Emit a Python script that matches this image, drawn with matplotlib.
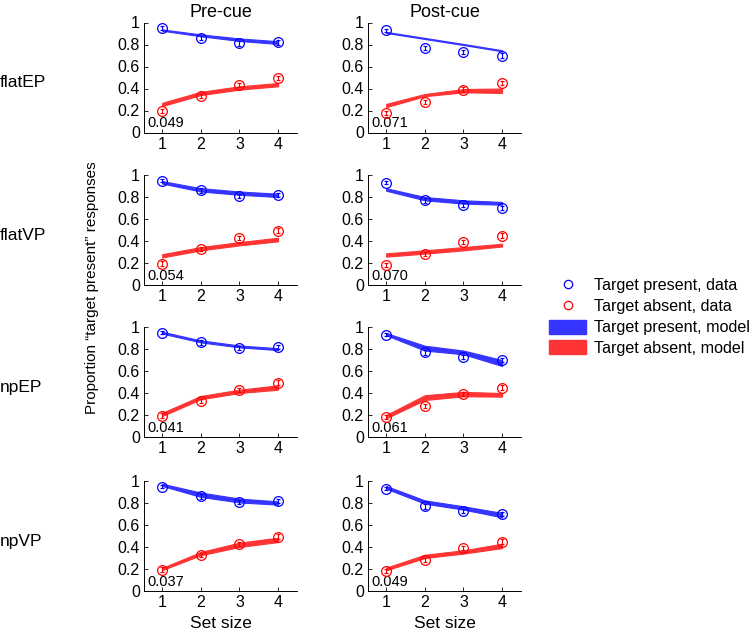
import numpy as np
import matplotlib
matplotlib.use("Agg")
from matplotlib import pyplot as plt
from matplotlib.lines import Line2D
from matplotlib.patches import Patch

plt.rcParams['font.family'] = ['Liberation Sans', 'DejaVu Sans']

set_sizes = [1, 2, 3, 4]
y_ticks = [0, 0.2, 0.4, 0.6, 0.8, 1]
y_tick_labels = ['0', '0.2', '0.4', '0.6', '0.8', '1']
conditions = ['Pre-cue', 'Post-cue']
models = ['flatEP', 'flatVP', 'npEP', 'npVP']

# observed proportions (same data in every row)
pre_present = [0.95, 0.86, 0.81, 0.82]
pre_absent = [0.195, 0.33, 0.43, 0.495]
post_present = [0.93, 0.77, 0.73, 0.70]
post_absent = [0.18, 0.28, 0.39, 0.45]
err_pre_present = [0.015, 0.02, 0.02, 0.02]
err_pre_absent = [0.02, 0.02, 0.02, 0.02]
err_post_present = [0.015, 0.02, 0.02, 0.02]
err_post_absent = [0.02, 0.02, 0.02, 0.02]

# model bands: [lower, upper]
flatEP_pre_present = [[0.925, 0.875, 0.832, 0.805], [0.937, 0.892, 0.855, 0.83]]
flatEP_pre_absent = [[0.24, 0.34, 0.39, 0.42], [0.27, 0.37, 0.42, 0.45]]
flatEP_post_present = [[0.905, 0.85, 0.795, 0.738], [0.915, 0.86, 0.805, 0.748]]
flatEP_post_absent = [[0.23, 0.33, 0.365, 0.36], [0.26, 0.35, 0.395, 0.40]]

flatVP_pre_present = [[0.922, 0.85, 0.82, 0.80], [0.945, 0.88, 0.85, 0.83]]
flatVP_pre_absent = [[0.25, 0.315, 0.36, 0.397], [0.28, 0.345, 0.39, 0.43]]
flatVP_post_present = [[0.857, 0.77, 0.74, 0.73], [0.88, 0.80, 0.77, 0.755]]
flatVP_post_absent = [[0.258, 0.285, 0.315, 0.35], [0.288, 0.315, 0.345, 0.375]]

npEP_pre_present = [[0.94, 0.86, 0.815, 0.79], [0.957, 0.878, 0.832, 0.807]]
npEP_pre_absent = [[0.19, 0.343, 0.40, 0.43], [0.22, 0.373, 0.43, 0.47]]
npEP_post_present = [[0.925, 0.786, 0.752, 0.645], [0.945, 0.83, 0.786, 0.70]]
npEP_post_absent = [[0.17, 0.336, 0.37, 0.367], [0.20, 0.38, 0.41, 0.40]]

npVP_pre_present = [[0.955, 0.855, 0.805, 0.785], [0.975, 0.895, 0.84, 0.815]]
npVP_pre_absent = [[0.19, 0.325, 0.40, 0.445], [0.21, 0.355, 0.44, 0.485]]
npVP_post_present = [[0.93, 0.794, 0.74, 0.67], [0.955, 0.824, 0.77, 0.71]]
npVP_post_absent = [[0.188, 0.30, 0.34, 0.39], [0.212, 0.33, 0.37, 0.43]]

fit_scores = [['0.049', '0.071'], ['0.054', '0.070'], ['0.041', '0.061'], ['0.037', '0.049']]

blue_fill = '#3535ff'
red_fill = '#ff3535'

bands = {
    'flatEP': [(flatEP_pre_present, flatEP_pre_absent), (flatEP_post_present, flatEP_post_absent)],
    'flatVP': [(flatVP_pre_present, flatVP_pre_absent), (flatVP_post_present, flatVP_post_absent)],
    'npEP': [(npEP_pre_present, npEP_pre_absent), (npEP_post_present, npEP_post_absent)],
    'npVP': [(npVP_pre_present, npVP_pre_absent), (npVP_post_present, npVP_post_absent)],
}
data = [(pre_present, err_pre_present, pre_absent, err_pre_absent),
        (post_present, err_post_present, post_absent, err_post_absent)]

fig = plt.figure(figsize=(7.55, 6.33), dpi=100)

col_left = [144 / 755, 368 / 755]
ax_w = 153 / 755
ax_h = 110 / 633
row_bottom = [1 - 132.5 / 633, 1 - 285 / 633, 1 - 437 / 633, 1 - 591 / 633]

for r, m in enumerate(models):
    for c in range(2):
        ax = fig.add_axes([col_left[c], row_bottom[r], ax_w, ax_h])
        tp_band, ta_band = bands[m][c]
        ax.fill_between(set_sizes, tp_band[0], tp_band[1], color=blue_fill,
                        lw=0.8, edgecolor=blue_fill, zorder=2)
        ax.fill_between(set_sizes, ta_band[0], ta_band[1], color=red_fill,
                        lw=0.8, edgecolor=red_fill, zorder=2)
        tp, tp_err, ta, ta_err = data[c]
        ax.errorbar(set_sizes, tp, yerr=tp_err, fmt='o', mfc='none', mec='blue',
                    ecolor='blue', ms=7, mew=0.9, elinewidth=0.8, capsize=1.5, zorder=3)
        ax.errorbar(set_sizes, ta, yerr=ta_err, fmt='o', mfc='none', mec='red',
                    ecolor='red', ms=7, mew=0.9, elinewidth=0.8, capsize=1.5, zorder=3)
        ax.text(0.62, 0.085, fit_scores[r][c], fontsize=10.5, va='center', ha='left')

        ax.set_xlim(0.53, 4.49)
        ax.set_ylim(0, 1)
        ax.set_xticks(set_sizes)
        ax.set_yticks(y_ticks)
        ax.set_yticklabels(y_tick_labels)
        ax.tick_params(direction='in', length=3, width=0.6, labelsize=11.5, pad=3)
        for side in ['top', 'right']:
            ax.spines[side].set_visible(False)
        for side in ['left', 'bottom']:
            ax.spines[side].set_linewidth(0.7)

        if r == 0:
            ax.set_title(conditions[c], fontsize=13, pad=4)
        if r == 3:
            ax.set_xlabel('Set size', fontsize=12.5, labelpad=4)
    fig.text(0.0, row_bottom[r] + ax_h / 2 - 0.008, m, fontsize=12.5, ha='left', va='center')

fig.text(92 / 755, 1 - 288 / 633, 'Proportion \u201ctarget present\u201d responses',
         rotation=90, fontsize=11, ha='center', va='center')

handles = [
    Line2D([], [], marker='o', ls='none', mfc='none', mec='blue', ms=6, mew=0.9),
    Line2D([], [], marker='o', ls='none', mfc='none', mec='red', ms=6, mew=0.9),
    Patch(facecolor=blue_fill, edgecolor=blue_fill),
    Patch(facecolor=red_fill, edgecolor=red_fill),
]
labels = ['Target present, data', 'Target absent, data',
          'Target present, model', 'Target absent, model']
fig.legend(handles, labels, loc='upper left', bbox_to_anchor=(549 / 755, 1 - 278 / 633),
           frameon=False, fontsize=11.6, handlelength=2.3, handleheight=0.95,
           handletextpad=0.5, labelspacing=0.33, borderpad=0, borderaxespad=0)

fig.savefig('out.png', dpi=100)
